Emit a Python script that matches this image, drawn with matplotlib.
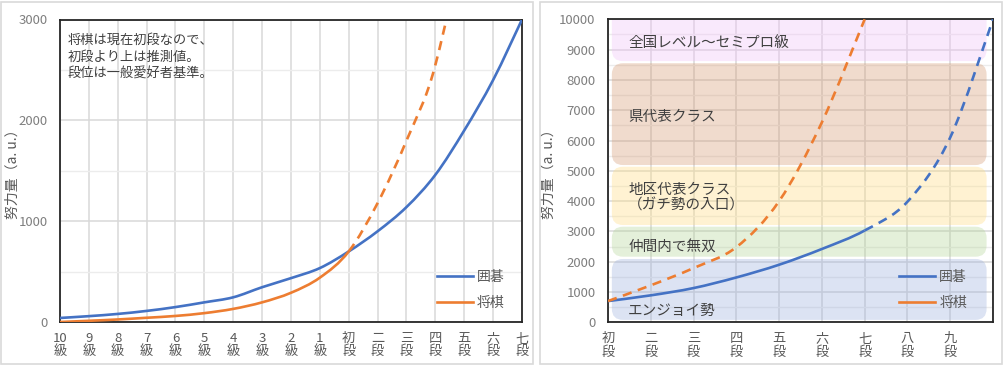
import numpy as np
import matplotlib
matplotlib.use("Agg")
import matplotlib.pyplot as plt
from matplotlib.path import Path
from matplotlib.patches import PathPatch, FancyBboxPatch, Rectangle
from matplotlib.lines import Line2D

plt.rcParams['font.family'] = ['Noto Sans CJK JP', 'DejaVu Sans']

# ---- data ----
left_ranks = ["10\n級", "9\n級", "8\n級", "7\n級", "6\n級", "5\n級", "4\n級", "3\n級", "2\n級", "1\n級",
              "初\n段", "二\n段", "三\n段", "四\n段", "五\n段", "六\n段", "七\n段"]
go_left = [40, 58, 80, 110, 148, 195, 245, 345, 435, 535, 700, 900, 1140, 1460, 1900, 2400, 3000]
shogi_left = [0, 12, 25, 42, 60, 88, 130, 195, 290, 440, 700, 1180, 1800, 2550, 4000, 6600, 10000]

right_ranks = ["初\n段", "二\n段", "三\n段", "四\n段", "五\n段", "六\n段", "七\n段", "八\n段", "九\n段", ""]
go_right = [700, 890, 1130, 1480, 1900, 2420, 3030, 3980, 6100, 10000]
shogi_right = [700, 1220, 1790, 2480, 4000, 6600, 10000]

band_names = ["エンジョイ勢", "仲間内で無双", "地区代表クラス\n（ガチ勢の入口）", "県代表クラス", "全国レベル～セミプロ級"]
band_low = [80, 2165, 3210, 5190, 8620]
band_high = [2090, 3155, 5135, 8550, 10400]
band_text_y = [373, 2495, 4120, 6790, 9230]
band_colors = ["#9bafdd", "#b2d495", "#ffdc7f", "#d49870", "#f0c0f8"]

BLUE = "#4472C4"
ORANGE = "#ED7D31"
TXT = "#404040"
TICK = "#595959"
DASH = (0, (3.5, 2.5))


def smooth_path(xs, ys, start, stop):
    # Excel-style smoothed line (Catmull-Rom as cubic Bezier), segments start..stop-1
    n = len(xs)
    verts = [(xs[start], ys[start])]
    codes = [Path.MOVETO]
    for i in range(start, stop):
        a = max(i - 1, 0)
        d = min(i + 2, n - 1)
        c1 = (xs[i] + (xs[i + 1] - xs[a]) / 6, ys[i] + (ys[i + 1] - ys[a]) / 6)
        c2 = (xs[i + 1] - (xs[d] - xs[i]) / 6, ys[i + 1] - (ys[d] - ys[i]) / 6)
        verts += [c1, c2, (xs[i + 1], ys[i + 1])]
        codes += [Path.CURVE4] * 3
    return Path(verts, codes)


def draw_series(ax, ys, color, solid_until, style_after):
    xs = list(range(len(ys)))
    last = len(ys) - 1
    if solid_until > 0:
        ax.add_patch(PathPatch(smooth_path(xs, ys, 0, solid_until), fill=False, edgecolor=color,
                               lw=1.9, capstyle="butt", zorder=4))
    if solid_until < last:
        ax.add_patch(PathPatch(smooth_path(xs, ys, solid_until, last), fill=False, edgecolor=color,
                               lw=1.9, linestyle=style_after, capstyle="butt", zorder=4))


def style_axes(ax, nx, ymax, ystep, labels):
    ax.set_xlim(0, nx)
    ax.set_ylim(0, ymax)
    ax.set_xticks(range(len(labels)))
    ax.set_xticklabels(labels, fontsize=9.5, color=TICK, linespacing=1.05)
    ax.set_yticks(np.arange(0, ymax + 1, ystep))
    ax.set_yticks(np.arange(ystep / 2, ymax, ystep), minor=True)
    ax.tick_params(axis="both", which="both", length=0)
    ax.tick_params(axis="x", pad=7)
    ax.tick_params(axis="y", pad=9, labelsize=9.5, labelcolor="#7f7f7f")
    ax.grid(True, which="major", color="#d9d9d9", lw=1.1)
    ax.grid(True, which="minor", axis="y", color="#ececec", lw=1.0)
    ax.set_axisbelow(True)
    for s in ax.spines.values():
        s.set_color("#262626")
        s.set_linewidth(1.3)
    ax.set_ylabel("努力量（a. u.）", fontsize=10, color=TICK)


def add_legend(ax, anchor):
    ax.legend([Line2D([], [], color=BLUE, lw=1.9), Line2D([], [], color=ORANGE, lw=1.9)], ["囲碁", "将棋"],
              loc="lower right", bbox_to_anchor=anchor, frameon=False, fontsize=10,
              labelcolor=TICK, handlelength=2.6, handletextpad=0.3, labelspacing=0.85)


fig = plt.figure(figsize=(10.04, 3.69), dpi=100)
W, H = 1004, 369

# panel borders
for x0, x1 in [(1, 533), (540, 1002)]:
    fig.patches.append(Rectangle((x0 / W, 1 - 364 / H), (x1 - x0) / W, (364 - 2) / H,
                                 transform=fig.transFigure, fill=False, edgecolor="#d9d9d9", lw=1.2))

# ---- left chart ----
ax1 = fig.add_axes([60 / W, 1 - 322 / H, 462 / W, 302.5 / H])
style_axes(ax1, 16, 3000, 1000, left_ranks)
ax1.set_xticks(range(1, 17, 2), minor=True)
ax1.grid(True, which="minor", axis="x", color="#ececec", lw=1.0)
ax1.yaxis.set_label_coords(-0.088, 0.5)
draw_series(ax1, go_left, BLUE, len(go_left) - 1, "-")
draw_series(ax1, shogi_left, ORANGE, 10, DASH)
ax1.text(0.017, 0.952, "将棋は現在初段なので、\n初段より上は推測値。\n段位は一般愛好者基準。",
         transform=ax1.transAxes, ha="left", va="top", fontsize=9.5, color=TXT, linespacing=1.4)
add_legend(ax1, (0.99, 0.0))

# ---- right chart ----
ax2 = fig.add_axes([608 / W, 1 - 322.3 / H, 385 / W, 303 / H])
style_axes(ax2, 9, 10000, 1000, right_ranks)
ax2.yaxis.set_label_coords(-0.135, 0.5)

# rounded bands; aspect so corners are round in pixels
fig.canvas.draw()
bb = ax2.bbox
aspect = (10000 / bb.height) / (9 / bb.width)
for name, lo, hi, ty, col in zip(band_names, band_low, band_high, band_text_y, band_colors):
    ax2.add_patch(FancyBboxPatch((0.09, lo), 8.76, hi - lo,
                                 boxstyle="round,pad=0,rounding_size=0.26", mutation_aspect=aspect,
                                 facecolor=col, edgecolor="none", alpha=0.35, zorder=2))
    ax2.text(0.47, ty, name, ha="left", va="center", fontsize=10.5, color=TXT, zorder=5, linespacing=1.15)

draw_series(ax2, go_right, BLUE, 6, DASH)
draw_series(ax2, shogi_right, ORANGE, 0, DASH)
add_legend(ax2, (0.965, 0.0))

fig.savefig("out.png", dpi=100)
